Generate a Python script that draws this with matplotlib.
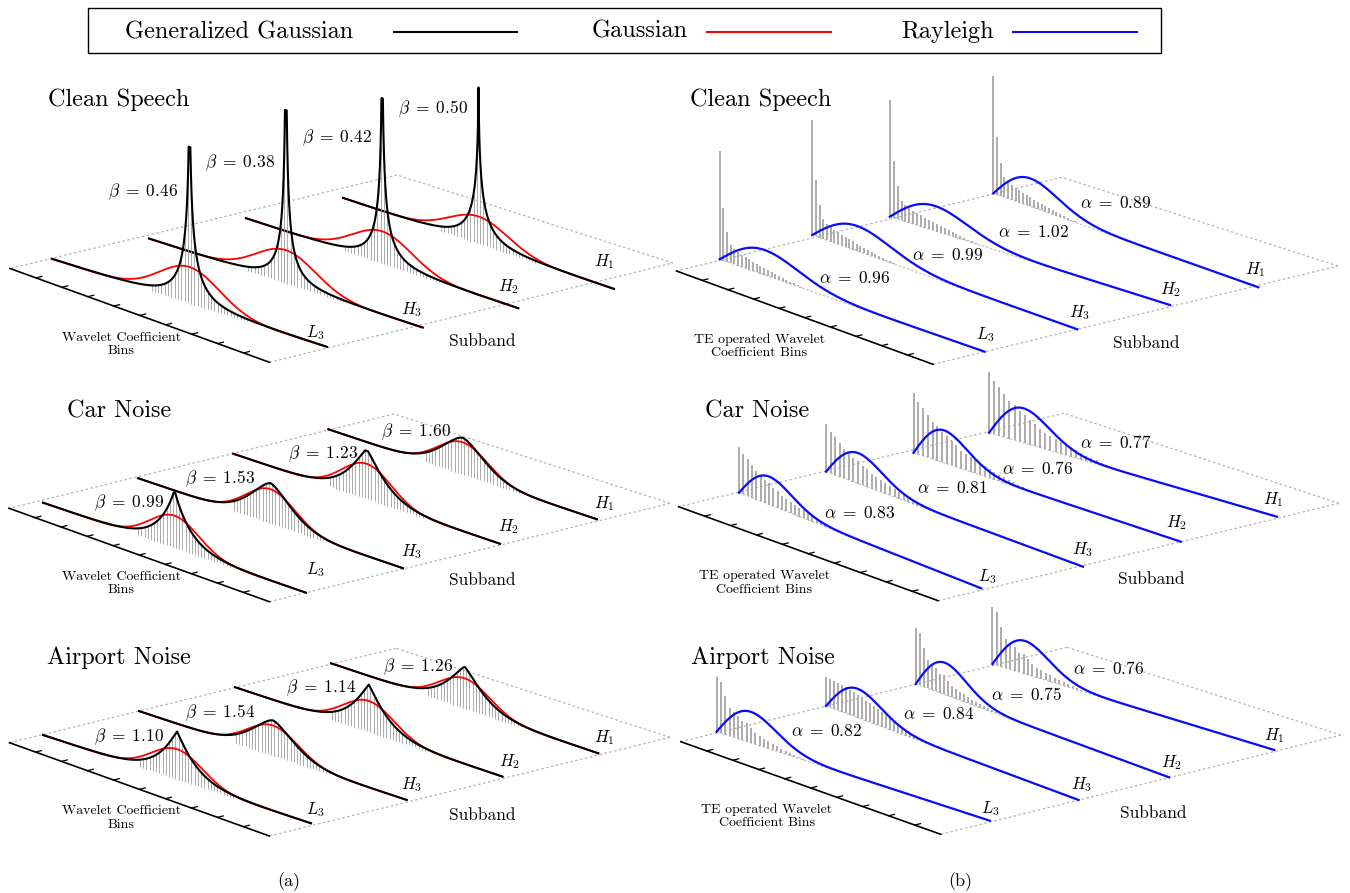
import math
import numpy as np
import matplotlib
matplotlib.use("Agg")
import matplotlib.pyplot as plt
from matplotlib.collections import LineCollection
from matplotlib.patches import Rectangle

plt.rcParams['mathtext.fontset'] = 'cm'
plt.rcParams['font.family'] = 'cmr10'
plt.rcParams['axes.formatter.use_mathtext'] = True

# --- values ---
subbands = [r'$L_{\mathit{3}}$', r'$H_{\mathit{3}}$', r'$H_{\mathit{2}}$', r'$H_{\mathit{1}}$']
conditions = ['Clean Speech', 'Car Noise', 'Airport Noise']

# (a) generalized gaussian shape parameters, per subband L3, H3, H2, H1
beta_clean = [0.46, 0.38, 0.42, 0.50]
beta_car = [0.99, 1.53, 1.23, 1.60]
beta_airport = [1.10, 1.54, 1.14, 1.26]
# peak heights (px above the subband line) of the drawn curves
gg_peak_clean = [156, 173, 165, 156]
gg_peak_car = [55, 40, 48, 37]
gg_peak_airport = [48, 37, 48, 43]
gauss_peak_clean = [36, 33, 32, 27]
gauss_peak_car = [32, 34, 35, 32]
gauss_peak_airport = [30, 30, 31, 30]
# std of the fitted gaussian, as a fraction of the bin axis
spread_clean, spread_car, spread_airport = 0.109, 0.093, 0.095

# (b) rayleigh parameters
alpha_clean = [0.96, 0.99, 1.02, 0.89]
alpha_car = [0.83, 0.81, 0.76, 0.77]
alpha_airport = [0.82, 0.84, 0.75, 0.76]
ray_peak_clean = [25, 25, 25, 28]
ray_peak_car = [28, 30.5, 32.5, 34.5]
ray_peak_airport = [31, 29, 32, 33]
ray_mode_clean = [0.17, 0.17, 0.16, 0.14]
ray_mode_car = [0.125, 0.125, 0.115, 0.12]
ray_mode_airport = [0.125, 0.125, 0.115, 0.115]
# histogram of the TE operated coefficients: first bar height and relative profile
first_bar_clean = [108, 115, 117, 117]
first_bar_car = [46, 48, 60, 61]
first_bar_airport = [55, 29, 56, 57]
profile_clean = [1.0, 0.49, 0.28, 0.17, 0.14, 0.125, 0.115, 0.105, 0.095, 0.085, 0.078,
                 0.07, 0.062, 0.055, 0.048, 0.042, 0.036, 0.03, 0.025, 0.02, 0.016, 0.012, 0.008]
profile_car = [1.0, 0.87, 0.80, 0.71, 0.62, 0.58, 0.50, 0.46, 0.40, 0.37, 0.30, 0.27,
               0.245, 0.22, 0.19, 0.17, 0.15, 0.13, 0.11, 0.09, 0.075, 0.06, 0.045, 0.03]
profile_airport = [1.0, 0.93, 0.70, 0.51, 0.46, 0.42, 0.34, 0.34, 0.27, 0.21, 0.17,
                   0.15, 0.13, 0.11, 0.09, 0.075, 0.06, 0.05, 0.04, 0.03, 0.02]
profile_airport_h3 = [1.0, 0.98, 0.97, 0.95, 0.93, 0.9, 0.87, 0.83, 0.8, 0.75, 0.7, 0.65,
                      0.6, 0.55, 0.5, 0.45, 0.4, 0.35, 0.3, 0.25, 0.2, 0.15, 0.12, 0.09, 0.06, 0.04, 0.02]

# --- layout (pixel positions in the 1350x893 canvas) ---
def lerp_lines(l3, h1):
    s = [tuple(np.array(l3[0]) + k / 3 * (np.array(h1[0]) - np.array(l3[0]))) for k in range(4)]
    e = [tuple(np.array(l3[1]) + k / 3 * (np.array(h1[1]) - np.array(l3[1]))) for k in range(4)]
    return s, e

left_layout = [
    dict(corners=[(10, 268.5), (269.5, 362.3), (673, 263), (397, 175)],
         lines=lerp_lines(((52, 259), (327, 347)), ((343, 198), (614, 289))),
         title=(119, 100),
         plabels=[(143, 192), (240, 163), (337, 138), (433, 109)],
         slabels=[(315, 333), (412, 310), (509, 287), (604, 262)]),
    dict(corners=[(9, 508.3), (269.4, 601.7), (670, 503.3), (394, 414)],
         lines=lerp_lines(((43, 502.7), (306, 592.7)), ((328.4, 429.3), (597, 519.3))),
         title=(119, 411),
         plabels=[(129, 503), (220, 479), (323, 454), (416, 432)],
         slabels=[(315, 570), (412, 552), (509, 527), (604, 504)]),
    dict(corners=[(9.5, 742.7), (269.4, 836), (670, 737.3), (396, 648.3)],
         lines=lerp_lines(((43, 735), (311, 823.3)), ((331, 663.3), (598.3, 753.3))),
         title=(119, 658),
         plabels=[(129, 737), (220, 713), (321, 688), (418, 667)],
         slabels=[(315, 810), (412, 785), (510, 762), (604, 738)]),
]
right_layout = [
    dict(corners=[(676.5, 271), (933, 364.3), (1338, 266), (1062, 177.3)],
         lines=([(719.6, 259.3), (812.2, 235), (889.8, 216.7), (993.3, 193.3)],
                [(984.7, 351.7), (1077.3, 329.3), (1170, 305), (1258.4, 287.3)]),
         title=(761, 100), step=0.014,
         plabels=[(855, 278), (948, 255), (1034, 232), (1116, 203)],
         slabels=[(985, 335), (1080, 313), (1171, 290), (1255, 270)]),
    dict(corners=[(678.6, 506.7), (938.1, 600.7), (1339, 503.3), (1064, 413.3)],
         lines=([(739, 492.7), (826, 471.7), (913.5, 452.7), (989, 432.7)],
                [(981.2, 588.3), (1083, 566.7), (1180.8, 541.7), (1276.9, 516.7)]),
         title=(757, 411), step=0.0178,
         plabels=[(860, 513), (952, 488), (1038, 468), (1116, 442)],
         slabels=[(987, 577), (1083, 550), (1177, 523), (1273, 500)]),
    dict(corners=[(680.8, 741.7), (940.7, 834.3), (1341, 735), (1067, 647.3)],
         lines=([(716.6, 731.7), (826, 706), (915.7, 684), (992.4, 664)],
                [(989.8, 820.7), (1078.6, 800), (1169, 777.3), (1274.3, 750)]),
         title=(763, 658), step=0.0158,
         plabels=[(827, 731), (939, 714), (1027, 694), (1109, 668)],
         slabels=[(990, 809), (1082, 785), (1172, 763), (1274, 736)]),
]

fig = plt.figure(figsize=(13.5, 8.93), dpi=100)
ax = fig.add_axes([0, 0, 1, 1])
ax.set_xlim(0, 1350)
ax.set_ylim(893, 0)
ax.axis('off')


def on_line(S, E, t, h=0.0):
    t = np.asarray(t, dtype=float)
    x = S[0] + t * (E[0] - S[0])
    y = S[1] + t * (E[1] - S[1]) - np.asarray(h, dtype=float)
    return x, y


def draw_plane(lay, axis_label):
    A, B, C, D = [np.array(p, dtype=float) for p in lay['corners']]
    ax.plot([A[0], B[0]], [A[1], B[1]], color='black', lw=1.2, zorder=2)
    for p, q in [(B, C), (C, D), (D, A)]:
        ax.plot([p[0], q[0]], [p[1], q[1]], color='#b4b4b4', lw=0.9,
                linestyle=(0, (2, 2)), zorder=1)
    into = (D - A) / np.linalg.norm(D - A)
    for u in np.arange(1, 10) / 10:
        p = A + u * (B - A)
        ax.plot([p[0], p[0] + 6 * into[0]], [p[1], p[1] + 6 * into[1]],
                color='black', lw=0.9, zorder=2)
    ax.text(B[0] + 213, B[1] - 21, 'Subband', fontsize=12.5, ha='center', va='center')
    ax.text(B[0] + axis_label[1], B[1] - 18, axis_label[0], fontsize=10,
            ha='center', va='center', linespacing=1.15)


def draw_gg_panel(lay, title, betas, gg_peaks, g_peaks, sigma):
    draw_plane(lay, ('Wavelet Coefficient\nBins', -148))
    starts, ends = lay['lines']
    mu = 0.5
    for k in reversed(range(4)):
        S, E = starts[k], ends[k]
        b = betas[k]
        K = g_peaks[k] * sigma * math.sqrt(2 * math.pi)
        a = sigma * math.sqrt(math.gamma(1 / b) / math.gamma(3 / b))
        top = K * b / (2 * a * math.gamma(1 / b))
        gg = lambda t: top * np.exp(-(np.abs(t - mu) / a) ** b)
        # curve sampled like the original, so the cusp stops at the drawn height
        dmin = a * math.log(top / gg_peaks[k]) ** (1 / b) if gg_peaks[k] < top else 0.0
        d = np.geomspace(1e-5, 0.6, 600)
        d = np.concatenate([[dmin], d[d > dmin]])
        t = np.concatenate([[0.0], mu - d[::-1], mu + d, [1.0]])
        t = np.clip(t, 0, 1)
        # histogram hatching
        tb = mu + (np.arange(-12, 18) + 0.5) * 0.012
        x0, y0 = on_line(S, E, tb)
        x1, y1 = on_line(S, E, tb, np.minimum(gg(tb), gg_peaks[k]))
        segs = [[(x0[i], y0[i]), (x1[i], y1[i])] for i in range(len(tb))]
        ax.add_collection(LineCollection(segs, colors='#9c9c9c', linewidths=0.6, zorder=3 + 3 * (3 - k)))
        tg = np.linspace(0, 1, 600)
        xg, yg = on_line(S, E, tg, g_peaks[k] * np.exp(-(tg - mu) ** 2 / (2 * sigma ** 2)))
        ax.plot(xg, yg, color='red', lw=1.3, zorder=4 + 3 * (3 - k))
        xs, ys = on_line(S, E, t, gg(t))
        ax.plot(xs, ys, color='black', lw=1.5, zorder=5 + 3 * (3 - k))
        ax.text(*lay['plabels'][k], r'$\beta\;=\;%.2f$' % b, fontsize=12.5, ha='center', va='center', zorder=30)
        ax.text(*lay['slabels'][k], subbands[k], fontsize=12, ha='center', va='center', zorder=30)
    ax.text(*lay['title'], title, fontsize=17.5, ha='center', va='center')


def draw_rayleigh_panel(lay, title, alphas, peaks, modes, first_bars, profiles):
    draw_plane(lay, ('TE operated Wavelet\nCoefficient Bins', -174))
    starts, ends = lay['lines']
    for k in reversed(range(4)):
        S, E = starts[k], ends[k]
        prof = np.array(profiles[k])
        tb = np.arange(len(prof)) * lay['step']
        # faint base of the histogram
        xb, yb = on_line(S, E, np.array([0, min(1.0, tb[-1] + 0.25)]))
        ax.plot(xb, yb, color='#c4c4c4', lw=0.9, linestyle=(0, (2, 1.5)), zorder=3 + 3 * (3 - k))
        x0, y0 = on_line(S, E, tb)
        x1, y1 = on_line(S, E, tb, first_bars[k] * prof)
        segs = [[(x0[i], y0[i]), (x1[i], y1[i])] for i in range(len(tb))]
        ax.add_collection(LineCollection(segs, colors='#a6a6a6', linewidths=1.3, zorder=3 + 3 * (3 - k)))
        t = np.linspace(0, 1, 800)
        r = t / modes[k]
        xr, yr = on_line(S, E, t, peaks[k] * r * np.exp(0.5 * (1 - r ** 2)))
        ax.plot(xr, yr, color='#0a0aff', lw=1.6, zorder=5 + 3 * (3 - k))
        ax.text(*lay['plabels'][k], r'$\alpha\;=\;%.2f$' % alphas[k], fontsize=12.5, ha='center', va='center', zorder=30)
        ax.text(*lay['slabels'][k], subbands[k], fontsize=12, ha='center', va='center', zorder=30)
    ax.text(*lay['title'], title, fontsize=17.5, ha='center', va='center')


draw_gg_panel(left_layout[0], conditions[0], beta_clean, gg_peak_clean, gauss_peak_clean, spread_clean)
draw_gg_panel(left_layout[1], conditions[1], beta_car, gg_peak_car, gauss_peak_car, spread_car)
draw_gg_panel(left_layout[2], conditions[2], beta_airport, gg_peak_airport, gauss_peak_airport, spread_airport)

draw_rayleigh_panel(right_layout[0], conditions[0], alpha_clean, ray_peak_clean, ray_mode_clean,
                    first_bar_clean, [profile_clean] * 4)
draw_rayleigh_panel(right_layout[1], conditions[1], alpha_car, ray_peak_car, ray_mode_car,
                    first_bar_car, [profile_car] * 4)
draw_rayleigh_panel(right_layout[2], conditions[2], alpha_airport, ray_peak_airport, ray_mode_airport,
                    first_bar_airport, [profile_airport, profile_airport_h3, profile_airport, profile_airport])

ax.text(289, 882, '(a)', fontsize=13, ha='center', va='center')
ax.text(960, 882, '(b)', fontsize=13, ha='center', va='center')

# legend box
ax.add_patch(Rectangle((88, 8), 1073, 45, fill=False, edgecolor='black', lw=1.0))
ax.text(239, 32, 'Generalized Gaussian', fontsize=17.5, ha='center', va='center')
ax.plot([394, 517], [32, 32], color='black', lw=1.5)
ax.text(640, 31, 'Gaussian', fontsize=17.5, ha='center', va='center')
ax.plot([707, 831], [32, 32], color='red', lw=1.5)
ax.text(948, 32, 'Rayleigh', fontsize=17.5, ha='center', va='center')
ax.plot([1013, 1137], [32, 32], color='#0a0aff', lw=1.5)

fig.savefig('out.png', dpi=100)
